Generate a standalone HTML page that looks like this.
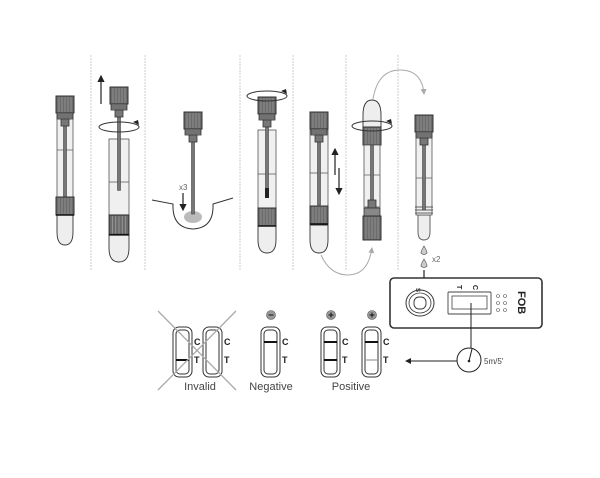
<!DOCTYPE html>
<html><head><style>
html,body{margin:0;padding:0;background:#fff}
svg{display:block}
text{font-family:"Liberation Sans",sans-serif}
</style></head><body>
<svg width="600" height="478" viewBox="0 0 600 478" xmlns="http://www.w3.org/2000/svg">
<defs>
<g id="cap">
<rect x="-9" y="0" width="18" height="17" fill="#6b6b6b" stroke="#333" stroke-width="1"/>
<path d="M-6 1V16M-3 1V16M0 1V16M3 1V16M6 1V16" stroke="#999" stroke-width="0.8"/>
<rect x="-8" y="17" width="16" height="6" fill="#888" stroke="#333" stroke-width="0.8"/>
<path d="M-8 19H8M-8 21H8" stroke="#333" stroke-width="0.6"/>
<rect x="-4" y="23" width="8" height="7" fill="#777" stroke="#333" stroke-width="0.8"/>
</g>
<g id="band">
<rect x="-9" y="0" width="18" height="18" fill="#6b6b6b" stroke="#333" stroke-width="1"/>
<path d="M-6 1V17M-3 1V17M0 1V17M3 1V17M6 1V17" stroke="#999" stroke-width="0.8"/>
<path d="M-9 18H9" stroke="#111" stroke-width="1.6"/>
</g>
<g id="stick">
<rect x="-1.5" y="0" width="3" height="80" fill="#777" stroke="#444" stroke-width="0.6"/>
</g>
<marker id="ah" markerWidth="6" markerHeight="6" refX="5" refY="3" orient="auto"><path d="M0 0L6 3L0 6z" fill="#222"/></marker>
<marker id="ahg" markerWidth="6" markerHeight="6" refX="5" refY="3" orient="auto"><path d="M0 0L6 3L0 6z" fill="#aaa"/></marker>
</defs>

<!-- separators -->
<g stroke="#ccc" stroke-width="1" stroke-dasharray="2,1">
<line x1="91" y1="55" x2="91" y2="270"/>
<line x1="145" y1="55" x2="145" y2="270"/>
<line x1="240" y1="55" x2="240" y2="270"/>
<line x1="293" y1="55" x2="293" y2="270"/>
<line x1="346" y1="55" x2="346" y2="270"/>
<line x1="398" y1="55" x2="398" y2="270"/>
</g>

<!-- tube 1 -->
<g transform="translate(65,0)">
<path d="M-8 215V232Q-8 245 0 245Q8 245 8 232V215Z" fill="#eee" stroke="#333" stroke-width="0.9"/>
<rect x="-8" y="113" width="16" height="84" fill="#f0f0f0" stroke="#555" stroke-width="0.8"/>
<line x1="-8" y1="150" x2="8" y2="150" stroke="#555" stroke-width="0.7"/>
<use href="#stick" transform="translate(0,118)"/>
<use href="#cap" transform="translate(0,96)"/>
<use href="#band" transform="translate(0,197)"/>
</g>

<!-- tube 2 -->
<g transform="translate(119,0)">
<path d="M-10 235V248Q-10 262 0 262Q10 262 10 248V235Z" fill="#eee" stroke="#333" stroke-width="0.9"/>
<rect x="-10" y="139" width="20" height="76" fill="#f0f0f0" stroke="#555" stroke-width="0.8"/>
<line x1="-10" y1="182" x2="10" y2="182" stroke="#555" stroke-width="0.7"/>
<use href="#stick" transform="translate(0,112) scale(1,0.98)"/>
<use href="#cap" transform="translate(0,87)"/>
<g transform="translate(0,215) scale(1.1,1.1)"><use href="#band"/></g>
<ellipse cx="0" cy="127" rx="20" ry="5" fill="none" stroke="#333" stroke-width="1"/>
<path d="M14 122l6 3-1 -5z" fill="#222"/>
</g>
<line x1="101" y1="104" x2="101" y2="76" stroke="#222" stroke-width="1.2" marker-end="url(#ah)"/>

<!-- tube 3 in bowl -->
<path d="M152 200L173 204Q172 228 193 229Q214 228 213 204L233 198" fill="none" stroke="#333" stroke-width="1"/>
<ellipse cx="193" cy="217" rx="9" ry="6" fill="#bbb"/>
<g transform="translate(193,0)">
<rect x="-1.5" y="138" width="3" height="76" fill="#777" stroke="#444" stroke-width="0.6"/>
<use href="#cap" transform="translate(0,112)"/>
</g>
<text x="179" y="190" font-size="8" fill="#666" font-family="Liberation Serif,serif">x3</text>
<line x1="183" y1="193" x2="183" y2="210" stroke="#222" stroke-width="1.2" marker-end="url(#ah)"/>

<!-- tube 4 -->
<g transform="translate(267,0)">
<path d="M-9 226V240Q-9 253 0 253Q9 253 9 240V226Z" fill="#eee" stroke="#333" stroke-width="0.9"/>
<rect x="-9" y="130" width="18" height="78" fill="#f0f0f0" stroke="#555" stroke-width="0.8"/>
<line x1="-9" y1="174" x2="9" y2="174" stroke="#555" stroke-width="0.7"/>
<rect x="-1.5" y="122" width="3" height="75" fill="#777" stroke="#444" stroke-width="0.6"/>
<rect x="-2" y="188" width="4" height="10" fill="#222"/>
<use href="#cap" transform="translate(0,97)"/>
<use href="#band" transform="translate(0,208)"/>
<ellipse cx="0" cy="96" rx="20" ry="5" fill="none" stroke="#333" stroke-width="1"/>
<path d="M14 91l6 3-1 -5z" fill="#222"/>
</g>

<!-- tube 5 -->
<g transform="translate(319,0)">
<path d="M-9 225V240Q-9 253 0 253Q9 253 9 240V225Z" fill="#eee" stroke="#333" stroke-width="0.9"/>
<rect x="-9" y="130" width="18" height="77" fill="#f0f0f0" stroke="#555" stroke-width="0.8"/>
<line x1="-9" y1="173" x2="9" y2="173" stroke="#555" stroke-width="0.7"/>
<rect x="-1.5" y="130" width="3" height="75" fill="#777" stroke="#444" stroke-width="0.6"/>
<use href="#cap" transform="translate(0,112)"/>
<use href="#band" transform="translate(0,206)"/>
</g>
<line x1="335" y1="175" x2="335" y2="149" stroke="#222" stroke-width="1.2" marker-end="url(#ah)"/>
<line x1="339" y1="168" x2="339" y2="194" stroke="#222" stroke-width="1.2" marker-end="url(#ah)"/>

<!-- tube 6 inverted -->
<g transform="translate(372,0)">
<path d="M-9 127V115Q-9 100 0 100Q9 100 9 115V127Z" fill="#eee" stroke="#333" stroke-width="0.9"/>
<rect x="-9" y="127" width="18" height="18" fill="#6b6b6b" stroke="#333"/>
<path d="M-6 128V144M-3 128V144M0 128V144M3 128V144M6 128V144" stroke="#999" stroke-width="0.8"/>
<rect x="-8" y="145" width="16" height="62" fill="#f0f0f0" stroke="#555" stroke-width="0.8"/>
<line x1="-8" y1="175" x2="8" y2="175" stroke="#555" stroke-width="0.7"/>
<rect x="-1.5" y="145" width="3" height="55" fill="#777" stroke="#444" stroke-width="0.6"/>
<rect x="-4" y="200" width="8" height="8" fill="#777" stroke="#333" stroke-width="0.8"/>
<rect x="-8" y="208" width="16" height="8" fill="#888" stroke="#333" stroke-width="0.8"/>
<rect x="-9" y="216" width="18" height="24" fill="#6b6b6b" stroke="#333"/>
<path d="M-6 217V239M-3 217V239M0 217V239M3 217V239M6 217V239" stroke="#999" stroke-width="0.8"/>
<ellipse cx="0" cy="126" rx="20" ry="5" fill="none" stroke="#333" stroke-width="1"/>
<path d="M14 121l6 3-1 -5z" fill="#222"/>
</g>

<!-- tube 7 -->
<g transform="translate(424,0)">
<path d="M-6 215V232Q-6 240 0 240Q6 240 6 232V215Z" fill="#eee" stroke="#555" stroke-width="0.9"/>
<rect x="-8" y="133" width="16" height="82" fill="#f0f0f0" stroke="#555" stroke-width="0.8"/>
<line x1="-8" y1="178" x2="8" y2="178" stroke="#555" stroke-width="0.7"/>
<path d="M-9 207H9M-9 210H9M-9 213H9" stroke="#333" stroke-width="0.7"/>
<rect x="-1.5" y="140" width="3" height="70" fill="#777" stroke="#444" stroke-width="0.6"/>
<use href="#cap" transform="translate(0,115)"/>
<path d="M0 246Q-3 251 -3 253Q0 256 3 253Q3 251 0 246Z" fill="#ccc" stroke="#555" stroke-width="0.7"/>
<path d="M0 259Q-3 264 -3 266Q0 269 3 266Q3 264 0 259Z" fill="#ccc" stroke="#555" stroke-width="0.7"/>
</g>
<text x="432" y="262" font-size="8" fill="#666" font-family="Liberation Serif,serif">x2</text>
<line x1="424" y1="270" x2="424" y2="287" stroke="#222" stroke-width="1.2" marker-end="url(#ah)"/>

<!-- curved gray arrows -->
<path d="M321 255Q330 275 348 275Q368 275 372 248" fill="none" stroke="#aaa" stroke-width="1" marker-end="url(#ahg)"/>
<path d="M373 99Q378 70 400 70Q422 70 424 94" fill="none" stroke="#aaa" stroke-width="1" marker-end="url(#ahg)"/>

<!-- device -->
<rect x="390" y="278" width="152" height="50" rx="4" fill="#fff" stroke="#333" stroke-width="1.6"/>
<ellipse cx="420" cy="303" rx="14" ry="13" fill="none" stroke="#333" stroke-width="1"/>
<ellipse cx="420" cy="303" rx="11" ry="10" fill="none" stroke="#333" stroke-width="0.8"/>
<rect x="414" y="297" width="12" height="12" rx="5" fill="none" stroke="#333" stroke-width="0.9"/>
<text x="418" y="290" font-size="6" fill="#333" font-weight="bold" transform="rotate(90 418 288)">S</text>
<rect x="448" y="292" width="43" height="22" rx="1" fill="none" stroke="#444" stroke-width="0.9"/>
<rect x="452" y="296" width="35" height="13" fill="none" stroke="#444" stroke-width="0.8"/>
<text x="458" y="290" font-size="7" font-weight="bold" fill="#222" transform="rotate(90 460 287)">T</text>
<text x="474" y="290" font-size="7" font-weight="bold" fill="#222" transform="rotate(90 476 287)">C</text>
<g fill="none" stroke="#555" stroke-width="0.6">
<circle cx="498" cy="296" r="1.5"/><circle cx="505" cy="296" r="1.5"/>
<circle cx="498" cy="303" r="1.5"/><circle cx="505" cy="303" r="1.5"/>
<circle cx="498" cy="310" r="1.5"/><circle cx="505" cy="310" r="1.5"/>
</g>
<text x="518" y="291" font-size="11" font-weight="bold" fill="#222" transform="rotate(90 518 291)">FOB</text>

<!-- timer -->
<line x1="471" y1="303" x2="471" y2="348" stroke="#222" stroke-width="1"/>
<circle cx="469" cy="360" r="12" fill="#fff" stroke="#222" stroke-width="1"/>
<line x1="469" y1="361" x2="472" y2="349" stroke="#222" stroke-width="1"/>
<circle cx="469" cy="361" r="1.3" fill="#222"/>
<text x="484" y="364" font-size="8" fill="#444" font-family="Liberation Serif,serif">5m/5'</text>
<line x1="457" y1="361" x2="406" y2="361" stroke="#222" stroke-width="1" marker-end="url(#ah)"/>

<!-- result strips -->
<g fill="none" stroke="#333" stroke-width="1">
<rect x="173" y="327" width="19" height="50" rx="6"/><rect x="176" y="330" width="13" height="44" rx="4"/>
<rect x="203" y="327" width="19" height="50" rx="6"/><rect x="206" y="330" width="13" height="44" rx="4"/>
<rect x="261" y="327" width="19" height="50" rx="6"/><rect x="264" y="330" width="13" height="44" rx="4"/>
<rect x="321" y="327" width="19" height="50" rx="6"/><rect x="324" y="330" width="13" height="44" rx="4"/>
<rect x="362" y="327" width="19" height="50" rx="6"/><rect x="365" y="330" width="13" height="44" rx="4"/>
</g>
<g stroke="#111" stroke-width="2">
<line x1="176" y1="360" x2="189" y2="360"/>
<line x1="264" y1="342" x2="277" y2="342"/>
<line x1="324" y1="342" x2="337" y2="342"/>
<line x1="324" y1="360" x2="337" y2="360"/>
<line x1="365" y1="342" x2="378" y2="342"/>
</g>
<line x1="365" y1="360" x2="378" y2="360" stroke="#999" stroke-width="1.2"/>
<g font-size="9" font-weight="bold" fill="#222">
<text x="194" y="345">C</text><text x="194" y="363">T</text>
<text x="224" y="345">C</text><text x="224" y="363">T</text>
<text x="282" y="345">C</text><text x="282" y="363">T</text>
<text x="342" y="345">C</text><text x="342" y="363">T</text>
<text x="383" y="345">C</text><text x="383" y="363">T</text>
</g>
<g stroke="#aaa" stroke-width="1.3">
<line x1="158" y1="311" x2="236" y2="390"/>
<line x1="236" y1="311" x2="158" y2="390"/>
</g>
<g fill="#999" stroke="#555" stroke-width="0.6">
<circle cx="271" cy="315" r="4.5"/><circle cx="331" cy="315" r="4.5"/><circle cx="372" cy="315" r="4.5"/>
</g>
<g stroke="#111" stroke-width="1">
<line x1="268.5" y1="315" x2="273.5" y2="315"/>
<line x1="328.5" y1="315" x2="333.5" y2="315"/><line x1="331" y1="312.5" x2="331" y2="317.5"/>
<line x1="369.5" y1="315" x2="374.5" y2="315"/><line x1="372" y1="312.5" x2="372" y2="317.5"/>
</g>
<g font-size="11" fill="#444" text-anchor="middle">
<text x="200" y="390">Invalid</text>
<text x="271" y="390">Negative</text>
<text x="351" y="390">Positive</text>
</g>
</svg>
</body></html>
